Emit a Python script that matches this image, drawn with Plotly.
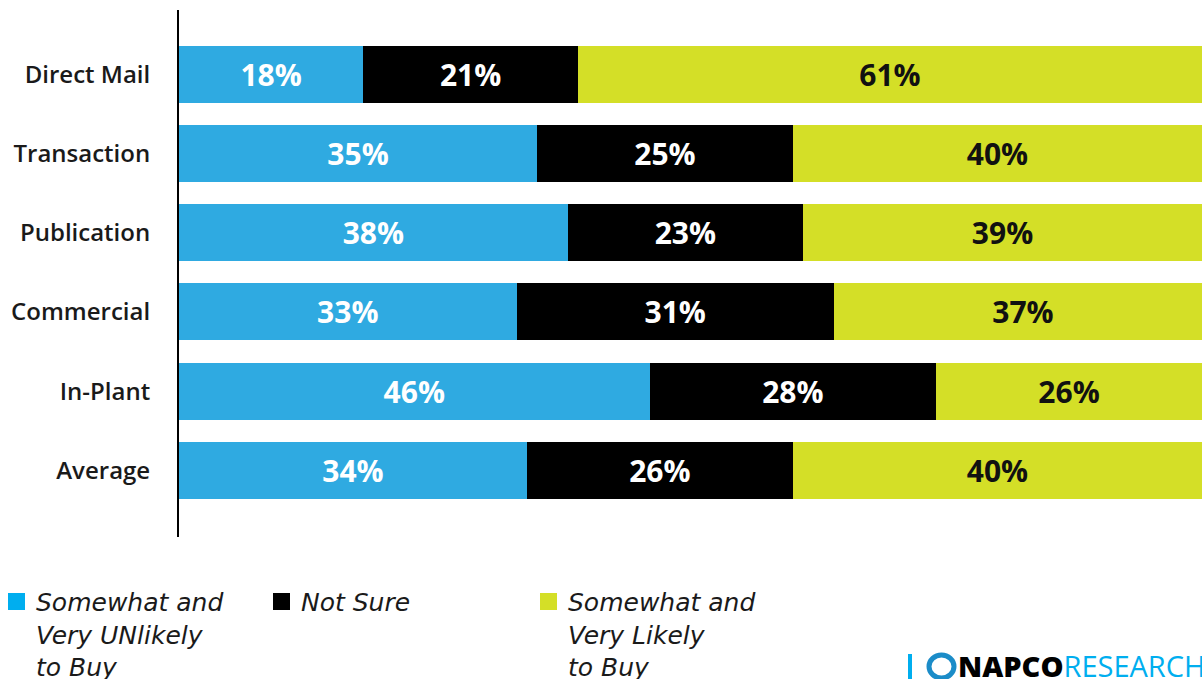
import plotly.graph_objects as go

# Survey segments (top to bottom) and the share of answers in each group
categories = ["Direct Mail", "Transaction", "Publication", "Commercial", "In-Plant", "Average"]
unlikely = [18, 35, 38, 33, 46, 34]
not_sure = [21, 25, 23, 31, 28, 26]
likely = [61, 40, 39, 37, 26, 40]

series_names = [
    "Somewhat and<br>Very UNlikely<br>to Buy",
    "Not Sure",
    "Somewhat and<br>Very Likely<br>to Buy",
]
bar_colors = ["#2FAAE1", "#000000", "#D4DF27"]
legend_colors = ["#00AEEF", "#000000", "#D4DF27"]
text_colors = ["#FFFFFF", "#FFFFFF", "#111111"]

FONT = "'Open Sans', Lato, sans-serif"
LEGEND_FONT = "'DejaVu Sans', 'Open Sans', sans-serif"

fig = go.Figure()
for name, vals, col, tcol in zip(series_names, [unlikely, not_sure, likely], bar_colors, text_colors):
    fig.add_trace(go.Bar(
        y=categories,
        x=vals,
        orientation="h",
        name=name,
        marker=dict(color=col, line=dict(width=0)),
        text=[f"{v}%" for v in vals],
        textposition="inside",
        insidetextanchor="middle",
        textangle=0,
        textfont=dict(family=FONT, size=30, color=tcol, weight=700),
        showlegend=False,
        hoverinfo="skip",
    ))

fig.update_layout(
    barmode="stack",
    bargap=0.28,
    width=1202,
    height=679,
    margin=dict(l=179, r=0, t=10, b=142),
    paper_bgcolor="white",
    plot_bgcolor="white",
    uniformtext=dict(mode=False),
    xaxis=dict(range=[0, 100], visible=False, fixedrange=True),
    yaxis=dict(
        categoryorder="array",
        categoryarray=categories,
        range=[5.84, -0.81],
        showline=True,
        linecolor="#000000",
        linewidth=2,
        showgrid=False,
        zeroline=False,
        ticks="",
        ticklabelstandoff=22,
        tickfont=dict(family=FONT, size=24, color="#1a1a1a", weight=600),
    ),
)

# Legend drawn as swatches plus italic multi-line labels under the plot
legend_x = [8, 273, 540]
for lx, name, col in zip(legend_x, series_names, legend_colors):
    fig.add_shape(type="rect", xref="paper", yref="paper",
                  x0=(lx - 179) / 1023, x1=(lx + 17 - 179) / 1023,
                  y0=(679 - 142 - 610) / 527, y1=(679 - 142 - 593) / 527,
                  fillcolor=col, line=dict(width=0))
    fig.add_annotation(xref="paper", yref="paper",
                       x=(lx + 26 - 179) / 1023, y=(679 - 142 - 586) / 527,
                       xanchor="left", yanchor="top", align="left",
                       text=f"<i>{name}</i>", showarrow=False,
                       font=dict(family=LEGEND_FONT, size=25, color="#1a1a1a"))

# NAPCO Research wordmark in the lower right corner
fig.add_shape(type="rect", xref="paper", yref="paper",
              x0=(908 - 179) / 1023, x1=(912 - 179) / 1023,
              y0=(679 - 142 - 679) / 527, y1=(679 - 142 - 654) / 527,
              fillcolor="#00AEEF", line=dict(width=0))
fig.add_shape(type="circle", xref="paper", yref="paper",
              x0=(929 - 179) / 1023, x1=(954 - 179) / 1023,
              y0=(679 - 142 - 678) / 527, y1=(679 - 142 - 655) / 527,
              line=dict(color="#1B8CC8", width=5))
fig.add_annotation(xref="paper", yref="paper",
                   x=(956 - 179) / 1023, y=(679 - 142 - 665) / 527,
                   xanchor="left", yanchor="middle", showarrow=False,
                   text="<span style='font-weight:800'>NAPCO</span>"
                        "<span style='color:#00AEEF'>RESEARCH</span>",
                   font=dict(family=FONT, size=29, color="#000000"))

fig.write_html("out.html", config={"displayModeBar": False})
